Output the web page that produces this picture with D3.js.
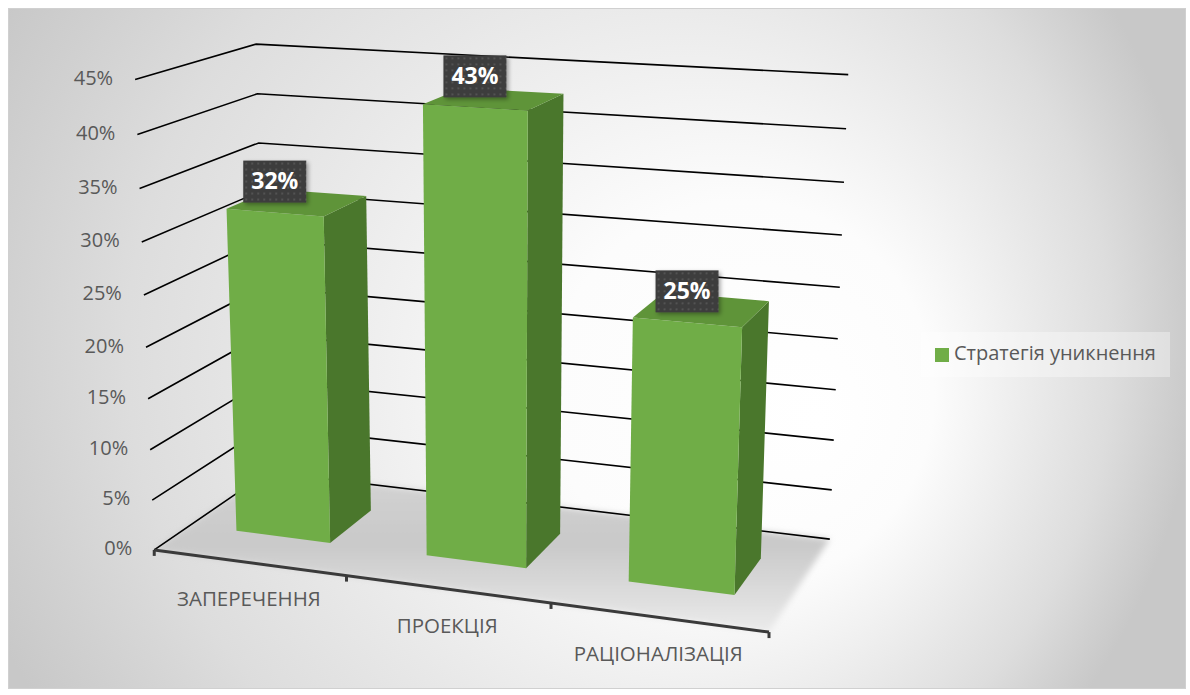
<!DOCTYPE html>
<html>
<head>
<meta charset="utf-8">
<script src="https://cdn.jsdelivr.net/npm/d3@7"></script>
<style>
  html, body { margin: 0; padding: 0; background: #ffffff; }
  svg { display: block; }
  text { font-family: "Open Sans", "Noto Sans", sans-serif; }
</style>
</head>
<body>
<svg id="chart" width="1190" height="695"></svg>
<script>
// ---- data ----
const categories = ["ЗАПЕРЕЧЕННЯ", "ПРОЕКЦІЯ", "РАЦІОНАЛІЗАЦІЯ"];
const values = [0.32, 0.43, 0.25];
const seriesName = "Стратегія уникнення";
const yTicks = [0, 0.05, 0.10, 0.15, 0.20, 0.25, 0.30, 0.35, 0.40, 0.45];
const yMax = 0.45;

// ---- colours ----
const barFront = "#70ad47";
const barTop = "#5f9439";
const barSide = "#4a772c";
const textColor = "#595959";

// ---- 3D frame: world axes X (categories), Y (value), Z (depth, 0 = front) ----
const x = d3.scaleBand().domain(categories).range([0, 3]).paddingInner(0.5).paddingOuter(0.25);
const xSlot = d3.scaleBand().domain(categories).range([0, 3]);
const y = d3.scaleLinear().domain([0, yMax]).range([0, 3]);
const barDepth = [0.3, 0.7];

// screen positions of the plot box edges, used to calibrate the perspective camera
const frameAnchors = [
  // front-left edge (X=0, Z=0)
  [0, 0.00, 0, 155, 549], [0, 0.05, 0, 152, 500], [0, 0.10, 0, 150, 450],
  [0, 0.15, 0, 148, 399], [0, 0.20, 0, 146, 347], [0, 0.25, 0, 144, 294],
  [0, 0.30, 0, 142, 242], [0, 0.35, 0, 140, 189], [0, 0.40, 0, 137, 134],
  [0, 0.45, 0, 135, 80],
  // back-left edge (X=0, Z=1)
  [0, 0.45, 1, 256, 44], [0, 0.40, 1, 257, 94], [0, 0.35, 1, 259, 143],
  // back-right edge (X=3, Z=1)
  [3, 0.45, 1, 848, 75], [3, 0.40, 1, 847, 129], [3, 0.35, 1, 844, 182],
  [3, 0.30, 1, 842, 235], [3, 0.25, 1, 839, 287], [3, 0.00, 1, 830, 539],
  // front floor edge (Y=0, Z=0)
  [1, 0, 0, 346, 577], [2, 0, 0, 551, 604], [3, 0, 0, 769, 631]
];

// Direct linear transform: least-squares 3x4 projection matrix
function calibrate(anchors) {
  const n = 11, S = 600, CX = 600, CY = 350;
  const M = Array.from({ length: n }, () => new Array(n).fill(0));
  const r = new Array(n).fill(0);
  const add = (row, rhs) => {
    for (let i = 0; i < n; i++) {
      r[i] += row[i] * rhs;
      for (let j = 0; j < n; j++) M[i][j] += row[i] * row[j];
    }
  };
  anchors.forEach(([X, v, Z, px, py]) => {
    const Y = y(v);
    const u = (px - CX) / S, w = (py - CY) / S;
    add([X, Y, Z, 1, 0, 0, 0, 0, -u * X, -u * Y, -u * Z], u);
    add([0, 0, 0, 0, X, Y, Z, 1, -w * X, -w * Y, -w * Z], w);
  });
  const A = M.map((row, i) => row.concat([r[i]]));
  for (let c = 0; c < n; c++) {
    let piv = c;
    for (let i = c + 1; i < n; i++) if (Math.abs(A[i][c]) > Math.abs(A[piv][c])) piv = i;
    [A[c], A[piv]] = [A[piv], A[c]];
    for (let i = 0; i < n; i++) {
      if (i === c) continue;
      const f = A[i][c] / A[c][c];
      for (let j = c; j <= n; j++) A[i][j] -= f * A[c][j];
    }
  }
  const p = A.map((row, i) => row[n] / row[i]);
  return (X, Y, Z) => {
    const d = p[8] * X + p[9] * Y + p[10] * Z + 1;
    const u = (p[0] * X + p[1] * Y + p[2] * Z + p[3]) / d;
    const w = (p[4] * X + p[5] * Y + p[6] * Z + p[7]) / d;
    return [u * S + CX, w * S + CY];
  };
}
const project = calibrate(frameAnchors);
const P = (X, v, Z) => project(X, y(v), Z);
const poly = pts => "M" + pts.map(p => p.join(",")).join("L") + "Z";

// ---- svg ----
const svg = d3.select("#chart");
const defs = svg.append("defs");

const bg = defs.append("radialGradient").attr("id", "bgGrad")
  .attr("gradientUnits", "userSpaceOnUse")
  .attr("cx", 560).attr("cy", 330).attr("r", 640).attr("fx", 820).attr("fy", 420);
[[0, "#ffffff"], [0.3, "#fcfcfc"], [0.6, "#e8e8e8"], [0.77, "#dddddd"], [0.9, "#d1d1d1"], [1, "#c8c8c8"]]
  .forEach(([o, c]) => bg.append("stop").attr("offset", o).attr("stop-color", c));

const fg = defs.append("linearGradient").attr("id", "floorGrad")
  .attr("x1", 0).attr("y1", 0).attr("x2", 0).attr("y2", 1);
[[0, "#d3d3d3"], [0.45, "#c9c9c9"], [1, "#ebebeb"]]
  .forEach(([o, c]) => fg.append("stop").attr("offset", o).attr("stop-color", c));

defs.append("filter").attr("id", "soft").attr("x", "-10%").attr("y", "-10%").attr("width", "120%").attr("height", "120%")
  .append("feGaussianBlur").attr("stdDeviation", 3);

const sh = defs.append("filter").attr("id", "shadow").attr("x", "-20%").attr("y", "-20%").attr("width", "150%").attr("height", "150%");
sh.append("feDropShadow").attr("dx", 2).attr("dy", 2).attr("stdDeviation", 2)
  .attr("flood-color", "#000").attr("flood-opacity", 0.35);

const pat = defs.append("pattern").attr("id", "dots").attr("patternUnits", "userSpaceOnUse")
  .attr("width", 6).attr("height", 6);
pat.append("rect").attr("width", 6).attr("height", 6).attr("fill", "#3d3d3d");
pat.append("circle").attr("cx", 3).attr("cy", 3).attr("r", 0.9).attr("fill", "#5c5c5c");

// chart area
svg.append("rect").attr("x", 8.5).attr("y", 8.5).attr("width", 1177).attr("height", 680)
  .attr("fill", "url(#bgGrad)").attr("stroke", "#d0d0d0").attr("stroke-width", 1);

// floor
svg.append("path")
  .attr("d", poly([P(0, 0, 0), P(3, 0, 0), P(3, 0, 1), P(0, 0, 1)]))
  .attr("fill", "url(#floorGrad)").attr("filter", "url(#soft)");

// gridlines on the side and back walls
svg.append("g").selectAll("path").data(yTicks).join("path")
  .attr("d", v => "M" + [P(0, v, 0), P(0, v, 1), P(3, v, 1)].map(p => p.join(",")).join("L"))
  .attr("fill", "none").attr("stroke", "#000").attr("stroke-width", 1.6);

// category axis line and ticks
const axisG = svg.append("g");
axisG.append("path")
  .attr("d", "M" + P(0, 0, 0).join(",") + "L" + P(3, 0, 0).join(","))
  .attr("stroke", "#3a3a3a").attr("stroke-width", 3).attr("fill", "none");
const slotEdges = [0].concat(categories.map(c => xSlot(c) + xSlot.bandwidth()));
axisG.selectAll("line").data(slotEdges).join("line")
  .attr("x1", X => P(X, 0, 0)[0]).attr("y1", X => P(X, 0, 0)[1])
  .attr("x2", X => P(X, 0, 0)[0]).attr("y2", X => P(X, 0, 0)[1] + 6)
  .attr("stroke", "#3a3a3a").attr("stroke-width", 3);

// bars
const [z0, z1] = barDepth;
const barG = svg.append("g").selectAll("g").data(categories).join("g");
barG.each(function (c, i) {
  const g = d3.select(this);
  const x0 = x(c), x1 = x0 + x.bandwidth(), v = values[i];
  g.append("path").attr("fill", barSide)
    .attr("d", poly([P(x1, 0, z0), P(x1, 0, z1), P(x1, v, z1), P(x1, v, z0)]));
  g.append("path").attr("fill", barFront)
    .attr("d", poly([P(x0, 0, z0), P(x1, 0, z0), P(x1, v, z0), P(x0, v, z0)]));
  g.append("path").attr("fill", barTop)
    .attr("d", poly([P(x0, v, z0), P(x1, v, z0), P(x1, v, z1), P(x0, v, z1)]));
});

// data labels
const fmt = d3.format(".0%");
const labelW = 63, labelH = 42;
const lab = svg.append("g").selectAll("g").data(categories).join("g")
  .attr("transform", (c, i) => {
    const [px, py] = P(x(c) + x.bandwidth() / 2, values[i], z0);
    return `translate(${px - labelW / 2},${py - 10 - labelH})`;
  });
lab.append("rect").attr("width", labelW).attr("height", labelH)
  .attr("fill", "url(#dots)").attr("filter", "url(#shadow)");
lab.append("text").attr("x", labelW / 2).attr("y", labelH / 2 + 1)
  .attr("text-anchor", "middle").attr("dominant-baseline", "middle")
  .attr("fill", "#ffffff").attr("font-weight", "bold").attr("font-size", 23)
  .text((c, i) => fmt(values[i]));

// value axis labels
svg.append("g").selectAll("text").data(yTicks).join("text")
  .attr("x", v => P(0, v, 0)[0] - 22).attr("y", v => P(0, v, 0)[1])
  .attr("text-anchor", "end").attr("dominant-baseline", "middle")
  .attr("fill", textColor).attr("font-size", 20)
  .text(v => fmt(v));

// category labels
svg.append("g").selectAll("text").data(categories).join("text")
  .attr("x", c => P(xSlot(c) + xSlot.bandwidth() / 2, 0, 0)[0])
  .attr("y", c => P(xSlot(c) + xSlot.bandwidth() / 2, 0, 0)[1] + 38)
  .attr("text-anchor", "middle").attr("dominant-baseline", "middle")
  .attr("fill", textColor).attr("font-size", 20.5)
  .text(c => c);

// legend
const leg = svg.append("g").attr("transform", "translate(921,332)");
leg.append("rect").attr("width", 249).attr("height", 45).attr("fill", "#ffffff").attr("fill-opacity", 0.35);
leg.append("rect").attr("x", 14).attr("y", 16).attr("width", 14).attr("height", 14).attr("fill", barFront);
leg.append("text").attr("x", 33).attr("y", 23).attr("dominant-baseline", "middle")
  .attr("fill", textColor).attr("font-size", 20).text(seriesName);
</script>
</body>
</html>
